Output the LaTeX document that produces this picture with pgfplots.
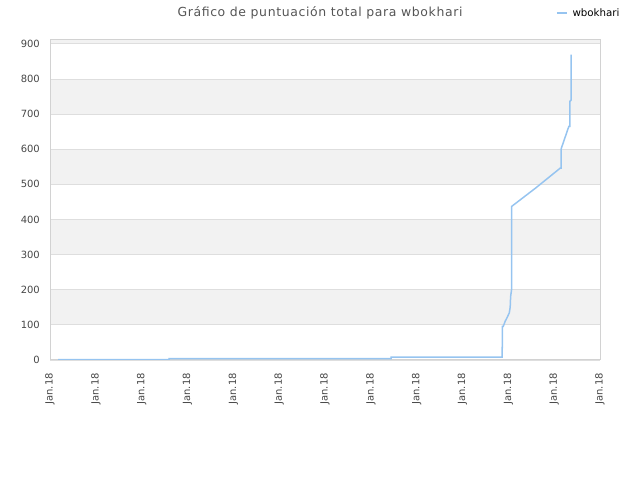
\documentclass[border=0pt]{standalone}
\usepackage{fontspec}
\setmainfont{DejaVu Sans}
\usepackage{pgfplots}
\pgfplotsset{compat=1.18}
\definecolor{lineblue}{RGB}{150,196,240}
\definecolor{bandgray}{RGB}{242,242,242}
\definecolor{gridgray}{RGB}{222,222,222}
\definecolor{framegray}{RGB}{210,210,210}
\definecolor{labelgray}{RGB}{70,70,70}
\definecolor{titlegray}{RGB}{85,85,85}
\begin{document}
\begin{tikzpicture}[x=1bp,y=1bp]
\path (0,0) rectangle (640,480);
\begin{axis}[
  set layers,
  at={(50bp,120bp)}, anchor=south west,
  width=550bp, height=320bp, scale only axis,
  xmin=0, xmax=12, ymin=0, ymax=911,
  xtick={0,1,...,12},
  xticklabels={Jan.18,Jan.18,Jan.18,Jan.18,Jan.18,Jan.18,Jan.18,Jan.18,Jan.18,Jan.18,Jan.18,Jan.18,Jan.18},
  x tick label style={rotate=90, anchor=east, inner sep=0pt, xshift=-13bp,
    font=\fontsize{10}{11}\selectfont},
  ytick={0,100,...,900},
  y tick label style={inner sep=0pt, xshift=-10bp, font=\fontsize{10}{11}\selectfont},
  ymajorgrids, grid style={draw=gridgray, line width=0.8bp},
  axis line style={draw=framegray, line width=1bp},
  major tick length=0pt,
  tick label style={text=labelgray},
  /pgf/number format/assume math mode=true,
  /pgf/number format/1000 sep={},
  legend style={at={(0.92,1.084)}, anchor=west, draw=none, fill=none,
    inner sep=0pt, outer sep=0pt, font=\fontsize{10.3}{11}\selectfont, text=black,
    nodes={inner xsep=5bp}},
  legend image code/.code={\draw[lineblue, line width=1.5bp] (0bp,0bp) -- (10bp,0bp);},
]
\begin{pgfonlayer}{axis background}
\fill[bandgray] (axis cs:0,100) rectangle (axis cs:12,200);
\fill[bandgray] (axis cs:0,300) rectangle (axis cs:12,400);
\fill[bandgray] (axis cs:0,500) rectangle (axis cs:12,600);
\fill[bandgray] (axis cs:0,700) rectangle (axis cs:12,800);
\fill[bandgray] (axis cs:0,900) rectangle (axis cs:12,911);
\end{pgfonlayer}
\addplot[lineblue, line width=1.5bp, mark=none] coordinates {
(0.175,1) (2.597,1) (2.597,4) (7.44,4) (7.44,8) (9.863,8)
(9.863,35) (9.87,35) (9.87,96) (9.89,96) (9.93,110) (9.97,120)
(10.02,134) (10.04,150) (10.05,181) (10.07,200) (10.07,437)
(10.12,442) (10.6,490) (11.13,546) (11.15,546) (11.15,600)
(11.17,608) (11.32,665) (11.34,665) (11.34,736) (11.37,740) (11.37,869)
};
\addlegendentry{wbokhari}
\end{axis}
\node[font=\fontsize{12.5}{14}\selectfont\addfontfeature{LetterSpace=5}, text=titlegray] at (320,467) {Gráfico de puntuación total para wbokhari};
\end{tikzpicture}
\end{document}
